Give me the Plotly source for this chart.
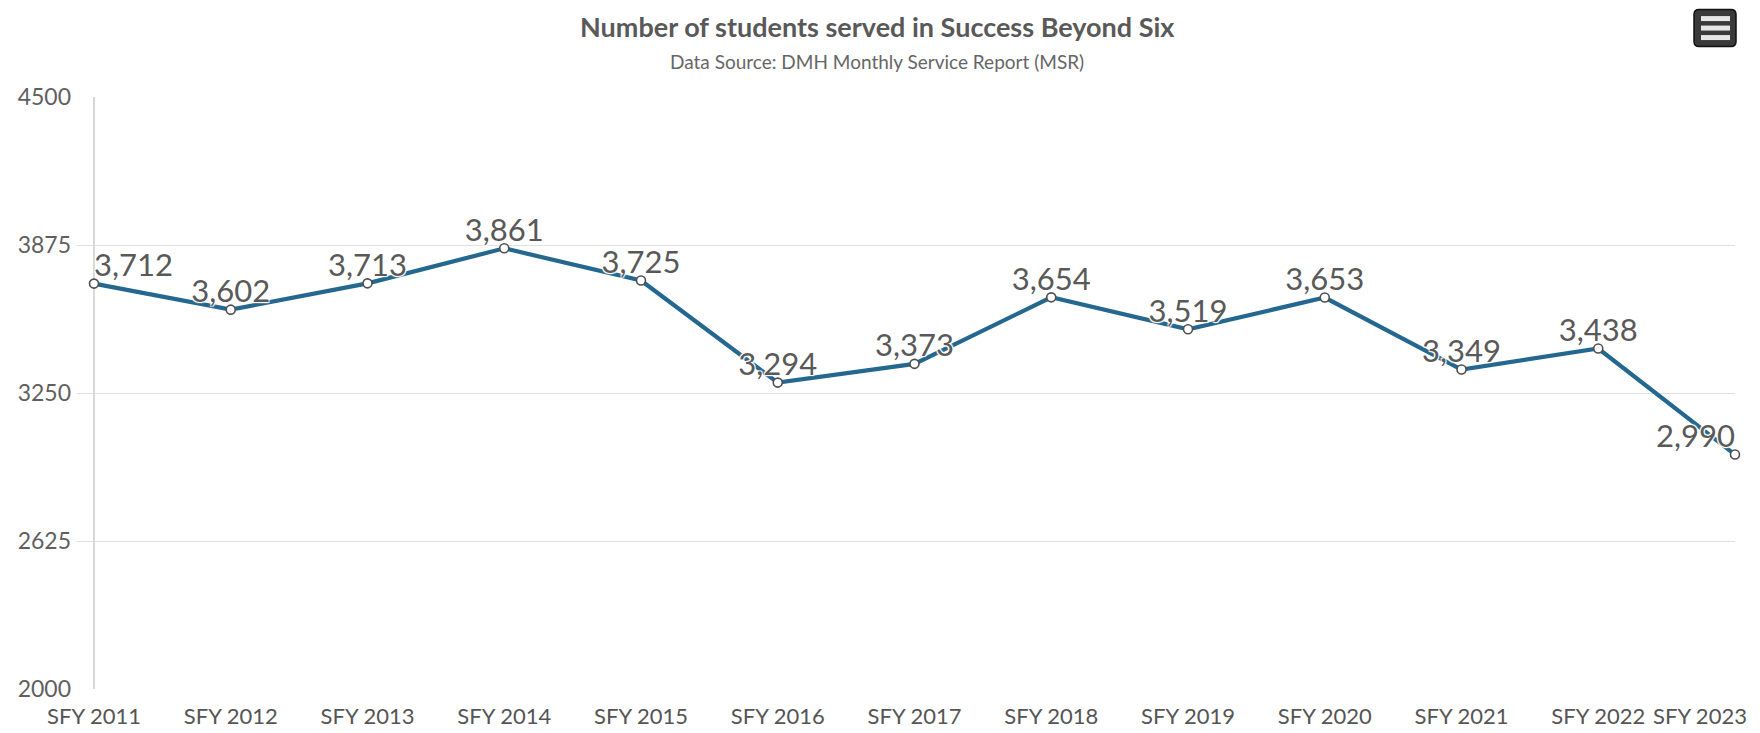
import plotly.graph_objects as go

categories = ["SFY 2011", "SFY 2012", "SFY 2013", "SFY 2014", "SFY 2015", "SFY 2016",
              "SFY 2017", "SFY 2018", "SFY 2019", "SFY 2020", "SFY 2021", "SFY 2022", "SFY 2023"]
students = [3712, 3602, 3713, 3861, 3725, 3294, 3373, 3654, 3519, 3653, 3349, 3438, 2990]
y_ticks = [2000, 2625, 3250, 3875, 4500]

OFF = 8  # page body margin
W, H = 1760 - OFF, 733 - OFF
# plot area in page pixels
PL, PR, PT, PB = 77, 1735, 96.5, 689
L, R, T, B = PL - OFF, W - (PR - OFF), PT - OFF, H - (PB - OFF)
PW, PH = W - L - R, H - T - B

def px(x):  # page px -> paper
    return (x - OFF - L) / PW

def py(y):
    return (H - B - (y - OFF)) / PH

n = len(categories)
xs = list(range(n))
positions = ["top right"] + ["top center"] * (n - 2) + ["top left"]
labels = [f"{v:,}" for v in students]

fig = go.Figure()
fig.add_trace(go.Scatter(
    x=xs, y=students, mode="lines+markers",
    line=dict(color="#24678f", width=4.2),
    marker=dict(size=9, color="#ffffff", line=dict(color="#505050", width=1.6)),
    cliponaxis=False, hoverinfo="skip", showlegend=False,
))
fig.add_trace(go.Scatter(
    x=xs, y=students, mode="text",
    text=labels, textposition=positions,
    textfont=dict(family="Lato", size=31, color="#595959",
                  shadow="1px 1px 1px #fff, -1px -1px 1px #fff, 1px -1px 1px #fff, -1px 1px 1px #fff"),
    cliponaxis=False, hoverinfo="skip", showlegend=False,
))

unit = (PR - 94) / (n - 1)
x_left = -(94 - PL) / unit

fig.update_xaxes(
    range=[x_left, n - 1], tickmode="array", tickvals=xs[:-1], ticktext=categories[:-1],
    showgrid=False, zeroline=True, zerolinecolor="#d8d8d8", zerolinewidth=1.5,
    showline=False, ticks="", ticklabelstandoff=12,
    tickfont=dict(family="Lato", size=22, color="#555555"),
)
fig.update_yaxes(
    range=[2000, 4500], tickmode="array", tickvals=y_ticks, ticktext=[str(v) for v in y_ticks],
    showgrid=True, gridcolor="#e0e0e0", gridwidth=1.2, zeroline=False, ticks="",
    ticklabelstandoff=5,
    tickfont=dict(family="Lato", size=23, color="#5f5f5f"),
)

annotations = [
    dict(text="<b>Number of students served in Success Beyond Six</b>", xref="paper", yref="paper",
         x=px(877), y=py(26), xanchor="center", yanchor="middle", showarrow=False,
         font=dict(family="Lato", size=27, color="#595959")),
    dict(text="Data Source: DMH Monthly Service Report (MSR)", xref="paper", yref="paper",
         x=px(877), y=py(61), xanchor="center", yanchor="middle", showarrow=False,
         font=dict(family="Lato", size=19, color="#666666")),
    dict(text=categories[-1], xref="x", yref="paper", x=xs[-1], y=py(716),
         xanchor="right", yanchor="middle", xshift=14, showarrow=False,
         font=dict(family="Lato", size=22, color="#555555")),
]

# export menu button (decoration)
bx0, bx1, by0, by1, r = 1694, 1736, 9, 46, 5
path = (f"M {px(bx0 + r)},{py(by0)} L {px(bx1 - r)},{py(by0)} "
        f"Q {px(bx1)},{py(by0)} {px(bx1)},{py(by0 + r)} L {px(bx1)},{py(by1 - r)} "
        f"Q {px(bx1)},{py(by1)} {px(bx1 - r)},{py(by1)} L {px(bx0 + r)},{py(by1)} "
        f"Q {px(bx0)},{py(by1)} {px(bx0)},{py(by1 - r)} L {px(bx0)},{py(by0 + r)} "
        f"Q {px(bx0)},{py(by0)} {px(bx0 + r)},{py(by0)} Z")
shapes = [dict(type="path", xref="paper", yref="paper", path=path,
               fillcolor="#3a3a3a", line=dict(color="#111111", width=1.5))]
for yy in (18, 27.5, 37):
    shapes.append(dict(type="rect", xref="paper", yref="paper",
                       x0=px(1701), x1=px(1730), y0=py(yy - 2.5), y1=py(yy + 2.5),
                       fillcolor="#e6e6e6", line=dict(width=0)))

fig.update_layout(
    width=W, height=H, autosize=False,
    margin=dict(l=L, r=R, t=T, b=B, autoexpand=False),
    paper_bgcolor="#ffffff", plot_bgcolor="#ffffff",
    annotations=annotations, shapes=shapes,
    font=dict(family="Lato"),
)

fig.write_html("out.html", config={"displayModeBar": False})
